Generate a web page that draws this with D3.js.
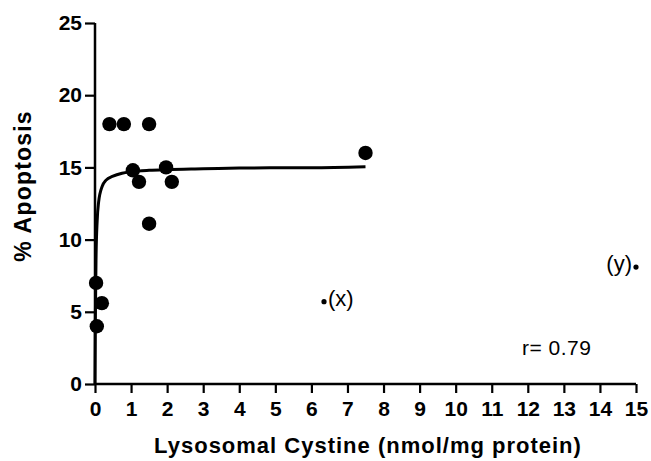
<!DOCTYPE html>
<html>
<head>
<meta charset="utf-8">
<script src="https://cdn.jsdelivr.net/npm/d3@7"></script>
<style>
  body { margin: 0; background: #fff; }
  svg { display: block; font-family: "Liberation Sans", Arial, sans-serif; }
</style>
</head>
<body>
<div id="chart"></div>
<script>
// measured points
var cystine = [0.4, 0.8, 1.5, 1.05, 1.22, 1.97, 2.13, 1.5, 0.03, 0.19, 0.05, 7.5]
var apoptosis = [18, 18, 18, 14.8, 14, 15, 14, 11.1, 7, 5.6, 4, 16]

// outliers (small dots with labels)
var outlierX = [6.35, 15]
var outlierY = [5.7, 8.1]
var outlierLabel = ['(x)', '(y)']

// fitted curve
var curveX = [0, 0.01, 0.03, 0.06, 0.1, 0.2, 0.3, 0.5, 0.75, 1, 1.5, 2, 3, 4, 5, 6, 7.5]
var curveY = [0, 4.5, 8.9, 11.3, 12.6, 13.7, 14.1, 14.4, 14.6, 14.7, 14.8, 14.85, 14.9, 14.95, 14.97, 14.98, 15.05]

var xTicks = d3.range(0, 16)
var yTicks = [0, 5, 10, 15, 20, 25]

var width = 651, height = 461

var svg = d3.select('#chart').append('svg')
    .attr('width', width)
    .attr('height', height)

var x = d3.scaleLinear().domain([0, 15]).range([95, 636])
var y = d3.scaleLinear().domain([0, 25]).range([384, 23])

// x axis
var xAxis = svg.append('g')
    .attr('transform', 'translate(0,' + y(0) + ')')
    .call(d3.axisBottom(x).tickValues(xTicks).tickSize(9).tickSizeOuter(0).tickPadding(8))
xAxis.select('.domain').attr('stroke-width', 2.5).attr('d', 'M' + x(0) + ',0H' + x(15))
xAxis.selectAll('.tick line').attr('stroke-width', 2.2)
xAxis.selectAll('.tick text')
    .attr('font-size', 21).attr('font-weight', 'bold').attr('fill', '#000')
    .attr('font-family', '"Liberation Sans", Arial, sans-serif')

// y axis
var yAxis = svg.append('g')
    .attr('transform', 'translate(' + x(0) + ',0)')
    .call(d3.axisLeft(y).tickValues(yTicks).tickSize(10).tickSizeOuter(0).tickPadding(3))
yAxis.select('.domain').attr('stroke-width', 2.5).attr('d', 'M0,' + y(0) + 'V' + y(25))
yAxis.selectAll('.tick line').attr('stroke-width', 2.2)
yAxis.selectAll('.tick text')
    .attr('font-size', 21).attr('font-weight', 'bold').attr('fill', '#000')
    .attr('font-family', '"Liberation Sans", Arial, sans-serif')

// axis titles
svg.append('text')
    .attr('x', 368).attr('y', 453)
    .attr('text-anchor', 'middle')
    .attr('font-size', 22).attr('font-weight', 'bold')
    .attr('letter-spacing', 1)
    .text('Lysosomal Cystine (nmol/mg protein)')

svg.append('text')
    .attr('transform', 'translate(31,186) rotate(-90)')
    .attr('text-anchor', 'middle')
    .attr('font-size', 23).attr('font-weight', 'bold')
    .attr('letter-spacing', 1.2)
    .text('% Apoptosis')

// curve
var curveData = curveX.map((d, i) => [d, curveY[i]])
var line = d3.line()
    .x(d => x(d[0]))
    .y(d => y(d[1]))
    .curve(d3.curveMonotoneX)

svg.append('path')
    .datum(curveData)
    .attr('fill', 'none')
    .attr('stroke', '#000')
    .attr('stroke-width', 3)
    .attr('d', line)

// points
svg.selectAll('.pt')
    .data(cystine.map((d, i) => [d, apoptosis[i]]))
    .enter()
    .append('circle')
    .attr('class', 'pt')
    .attr('cx', d => x(d[0]))
    .attr('cy', d => y(d[1]))
    .attr('r', 7.2)
    .attr('fill', '#000')

// outliers
var out = outlierX.map((d, i) => ({ x: d, y: outlierY[i], label: outlierLabel[i] }))
svg.selectAll('.out')
    .data(out)
    .enter()
    .append('circle')
    .attr('class', 'out')
    .attr('cx', d => x(d.x))
    .attr('cy', d => y(d.y))
    .attr('r', 2.6)
    .attr('fill', '#000')

svg.selectAll('.outLabel')
    .data(out)
    .enter()
    .append('text')
    .attr('class', 'outLabel')
    .attr('x', (d, i) => i == 0 ? x(d.x) + 4 : x(d.x) - 4)
    .attr('y', d => y(d.y) + 4)
    .attr('text-anchor', (d, i) => i == 0 ? 'start' : 'end')
    .attr('font-size', 22)
    .text(d => d.label)

svg.append('text')
    .attr('x', 522).attr('y', 355)
    .attr('font-size', 21)
    .attr('letter-spacing', 0.5)
    .text('r= 0.79')
</script>
</body>
</html>
